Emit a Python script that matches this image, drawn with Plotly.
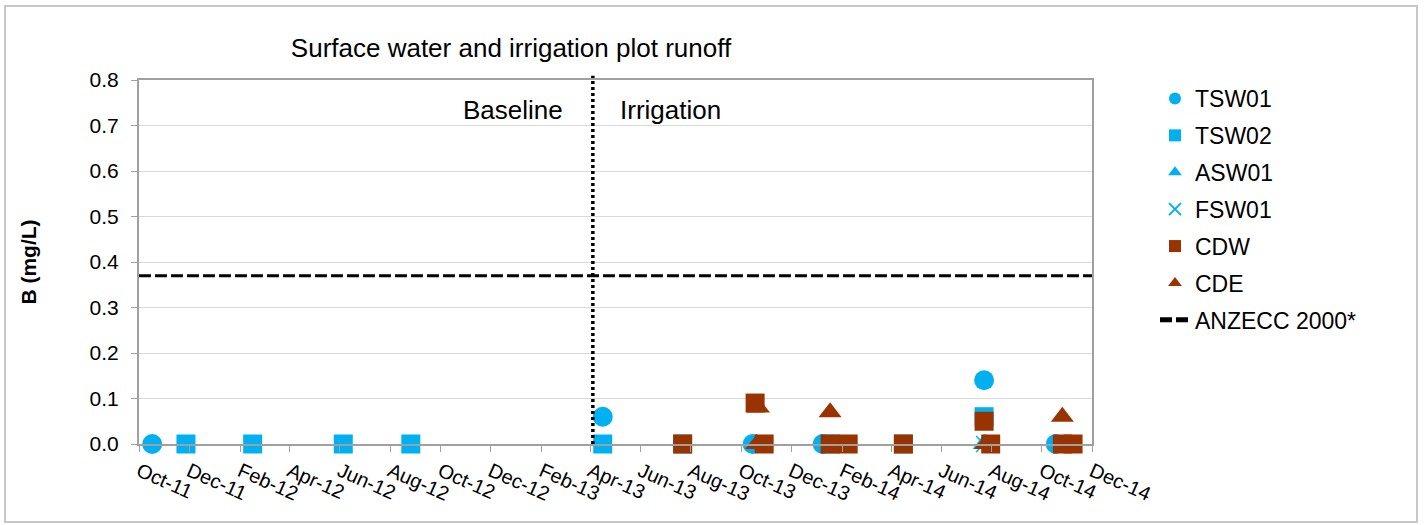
import plotly.graph_objects as go

# ---- data ----
tsw01_x = ["2011-10-17", "2013-04-16", "2013-10-15", "2014-01-08", "2014-07-23", "2014-10-18"]
tsw01_y = [0.0, 0.06, 0.0, 0.0, 0.14, 0.0]

tsw02_x = ["2011-11-27", "2012-02-16", "2012-06-05", "2012-08-26", "2013-04-16",
           "2013-07-22", "2014-01-17", "2014-04-16", "2014-07-23"]
tsw02_y = [0.0, 0.0, 0.0, 0.0, 0.0, 0.0, 0.0, 0.0, 0.06]

asw01_x = ["2013-10-20", "2014-07-23"]
asw01_y = [0.0, 0.0]

fsw01_x = ["2014-07-23"]
fsw01_y = [0.0]

cdw_x = ["2013-07-22", "2013-10-18", "2013-10-29", "2014-01-17", "2014-02-08",
         "2014-04-16", "2014-07-23", "2014-07-31", "2014-10-26", "2014-11-08"]
cdw_y = [0.0, 0.09, 0.0, 0.0, 0.0, 0.0, 0.05, 0.0, 0.0, 0.0]

cde_x = ["2013-10-22", "2013-10-20", "2014-01-17", "2014-07-25", "2014-10-26"]
cde_y = [0.08, 0.0, 0.07, 0.0, 0.06]

anzecc_x = ["2011-10-01", "2014-12-01"]
anzecc_y = [0.37, 0.37]

irrigation_start = "2013-04-04"

tick_dates = ["2011-10-01", "2011-12-01", "2012-02-01", "2012-04-01", "2012-06-01",
              "2012-08-01", "2012-10-01", "2012-12-01", "2013-02-01", "2013-04-01",
              "2013-06-01", "2013-08-01", "2013-10-01", "2013-12-01", "2014-02-01",
              "2014-04-01", "2014-06-01", "2014-08-01", "2014-10-01", "2014-12-01"]
tick_labels = ["Oct-11", "Dec-11", "Feb-12", "Apr-12", "Jun-12", "Aug-12", "Oct-12",
               "Dec-12", "Feb-13", "Apr-13", "Jun-13", "Aug-13", "Oct-13", "Dec-13",
               "Feb-14", "Apr-14", "Jun-14", "Aug-14", "Oct-14", "Dec-14"]

BLUE = "#00B0F0"
BROWN = "#993300"
FONT = "Liberation Sans, Arial, sans-serif"

W, H = 1428, 525
L, R, T, B = 139, 336, 80, 81
PW, PH = W - L - R, H - T - B

fig = go.Figure()

def add(name, x, y, symbol, color, size, group):
    fig.add_trace(go.Scatter(
        x=x, y=y, mode="markers", name=name, legendgroup=group,
        marker=dict(symbol=symbol, color=color, size=size,
                    line=dict(width=1.5 if symbol == "x-thin" else 0, color=color)),
        cliponaxis=False))

add("TSW01", tsw01_x, tsw01_y, "circle", BLUE, 20, "g1")
add("TSW02", tsw02_x, tsw02_y, "square", BLUE, 19, "g2")
add("ASW01", asw01_x, asw01_y, "triangle-up", BLUE, 20, "g3")
add("FSW01", fsw01_x, fsw01_y, "x-thin", BLUE, 16, "g4")
add("CDW", cdw_x, cdw_y, "square", BROWN, 19, "g5")
add("CDE", cde_x, cde_y, "triangle-up", BROWN, 20, "g6")

fig.add_trace(go.Scatter(
    x=anzecc_x, y=anzecc_y, mode="lines", name="ANZECC 2000*", legendgroup="g7",
    line=dict(color="black", width=3, dash="12px,4px")))

shapes = [
    dict(type="line", xref="x", yref="paper", x0=irrigation_start, x1=irrigation_start,
         y0=0, y1=1.012, line=dict(color="black", width=3.5, dash="3px,3px")),
    dict(type="rect", xref="paper", yref="paper",
         x0=(5 - L) / PW, x1=(1417 - L) / PW,
         y0=(T + PH - 522) / PH, y1=(T + PH - 6) / PH,
         line=dict(color="#C8C8C8", width=2), fillcolor="rgba(0,0,0,0)", layer="below"),
]

annotations = [
    dict(text="Baseline", xref="x", yref="paper", x="2013-03-01", y=(T + PH - 110) / PH,
         xanchor="right", yanchor="middle", showarrow=False,
         font=dict(size=26, color="black", family=FONT)),
    dict(text="Irrigation", xref="x", yref="paper", x="2013-05-05", y=(T + PH - 110) / PH,
         xanchor="left", yanchor="middle", showarrow=False,
         font=dict(size=26, color="black", family=FONT)),
]

fig.update_layout(
    width=W, height=H,
    margin=dict(l=L, r=R, t=T, b=B, autoexpand=False),
    paper_bgcolor="white", plot_bgcolor="white",
    font=dict(family=FONT, size=20, color="black"),
    title=dict(text="Surface water and irrigation plot runoff", x=511 / W, xanchor="center",
               xref="container", y=1 - 48 / H, yanchor="middle", yref="container",
               font=dict(size=26, color="black", family=FONT)),
    shapes=shapes, annotations=annotations,
    showlegend=True,
    legend=dict(x=1155 / W, xref="container", xanchor="left", y=1 - 77 / H, yref="container",
                yanchor="top", font=dict(size=23, color="black", family=FONT),
                tracegroupgap=4, itemsizing="constant", bgcolor="rgba(0,0,0,0)",
                maxheight=450),
)

fig.update_xaxes(
    type="date", range=["2011-10-01", "2014-12-01"],
    tickmode="array", tickvals=tick_dates, ticktext=tick_labels,
    tickangle=24, ticks="outside", ticklen=6, tickcolor="#A0A0A0",
    showgrid=False, showline=True, linecolor="#A0A0A0", linewidth=2, mirror=True,
    zeroline=False, tickfont=dict(size=20, color="black", family=FONT))

fig.update_yaxes(
    range=[0, 0.8], dtick=0.1, tickformat=".1f",
    ticks="outside", ticklen=6, tickcolor="#A0A0A0",
    showgrid=True, gridcolor="#D9D9D9", gridwidth=1,
    showline=True, linecolor="#A0A0A0", linewidth=2, mirror=True, zeroline=False,
    tickfont=dict(size=21, color="black", family=FONT), ticklabelstandoff=8,
    title=dict(text="<b>B (mg/L)</b>", standoff=47, font=dict(size=21, color="black", family=FONT)))

fig.write_html("out.html")
